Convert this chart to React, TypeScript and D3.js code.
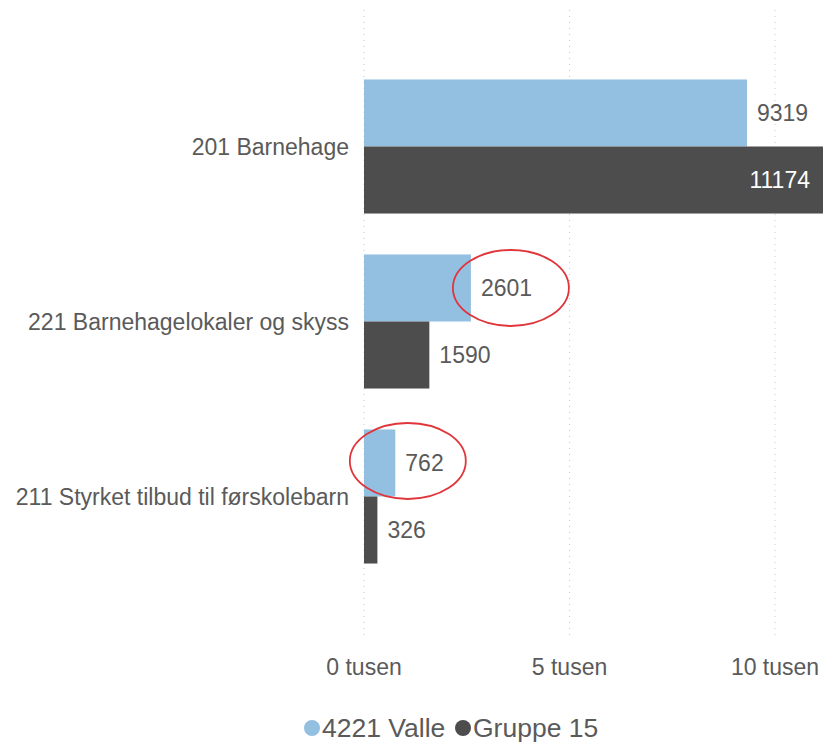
import * as d3 from 'd3';
import { useEffect } from 'react';

// values
const categories = [
  '201 Barnehage',
  '221 Barnehagelokaler og skyss',
  '211 Styrket tilbud til førskolebarn',
];
const seriesNames = ['4221 Valle', 'Gruppe 15'];
const valle = [9319, 2601, 762];
const gruppe15 = [11174, 1590, 326];
const ticks = [0, 5000, 10000];
// labels that got a red circle drawn round them (hand drawn, so a bit off-centre)
const highlighted = [
  { series: 0, cat: 1, dx: 4, dy: 0, rx: 58, ry: 38 },
  { series: 0, cat: 2, dx: -17, dy: -2, rx: 58, ry: 38 },
];

const W = 823;
const H = 745;
const colors = ['#93bfe1', '#4d4d4d'];
const textColor = '#5a5a5a';
const font = '"Liberation Sans", Arial, sans-serif';
const digitW = 13;

export default function App() {
  useEffect(() => {
    document.body.style.margin = '0';
  }, []);

  const x = d3.scaleLinear().domain([0, 10000]).range([364, 775]);
  const y = d3
    .scaleBand<string>()
    .domain(categories)
    .range([59, 584])
    .paddingInner(0.234)
    .paddingOuter(0.117);
  const sub = d3
    .scaleBand<number>()
    .domain([0, 1])
    .range([0, y.bandwidth()]);

  const series = [valle, gruppe15];
  const barMid = (si: number, ci: number) =>
    (y(categories[ci]) ?? 0) + (sub(si) ?? 0) + sub.bandwidth() / 2;

  return (
    <svg width={W} height={H} style={{ display: 'block' }} fontFamily={font}>
      <defs>
        <clipPath id='plot'>
          <rect x={0} y={0} width={W} height={H} />
        </clipPath>
      </defs>

      {/* grid */}
      {ticks.map((t) => (
        <line
          key={t}
          x1={x(t)}
          x2={x(t)}
          y1={10}
          y2={640}
          stroke='#c8c8c8'
          strokeWidth={1}
          strokeDasharray='1,5'
        />
      ))}

      {/* bars */}
      {series.map((vals, si) =>
        vals.map((v, ci) => (
          <rect
            key={`${si}-${ci}`}
            x={x(0)}
            y={(y(categories[ci]) ?? 0) + (sub(si) ?? 0)}
            width={x(v) - x(0)}
            height={sub.bandwidth()}
            fill={colors[si]}
            clipPath='url(#plot)'
          />
        )),
      )}

      {/* value labels */}
      {series.map((vals, si) =>
        vals.map((v, ci) => {
          const inside = x(v) + 70 > W;
          return (
            <text
              key={`l${si}-${ci}`}
              x={inside ? W - 13 : x(v) + 10}
              y={barMid(si, ci)}
              dy='0.35em'
              textAnchor={inside ? 'end' : 'start'}
              fontSize={23}
              fill={inside ? '#ffffff' : textColor}
            >
              {v}
            </text>
          );
        }),
      )}

      {/* annotations */}
      {highlighted.map(({ series: si, cat, dx, dy, rx, ry }) => {
        const v = series[si][cat];
        const w = String(v).length * digitW;
        return (
          <ellipse
            key={`e${cat}`}
            cx={x(v) + 10 + w / 2 + dx}
            cy={barMid(si, cat) + dy}
            rx={rx}
            ry={ry}
            fill='none'
            stroke='#e0353b'
            strokeWidth={1.8}
          />
        );
      })}

      {/* category labels */}
      {categories.map((c) => (
        <text
          key={c}
          x={349}
          y={(y(c) ?? 0) + y.bandwidth() / 2}
          dy='0.35em'
          textAnchor='end'
          fontSize={23}
          fill={textColor}
        >
          {c}
        </text>
      ))}

      {/* axis ticks */}
      {ticks.map((t) => (
        <text
          key={`t${t}`}
          x={x(t)}
          y={667}
          dy='0.35em'
          textAnchor='middle'
          fontSize={23}
          fill={textColor}
        >
          {`${t / 1000} tusen`}
        </text>
      ))}

      {/* legend */}
      <g>
        <circle cx={312} cy={728} r={8} fill={colors[0]} />
        <text x={322} y={728} dy='0.35em' fontSize={26.5} fill={textColor}>
          {seriesNames[0]}
        </text>
        <circle cx={463} cy={728} r={8} fill={colors[1]} />
        <text x={473} y={728} dy='0.35em' fontSize={26.5} fill={textColor}>
          {seriesNames[1]}
        </text>
      </g>
    </svg>
  );
}
